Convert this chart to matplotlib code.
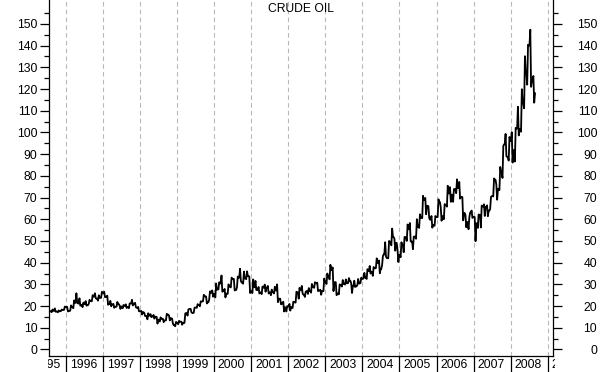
import matplotlib
matplotlib.use("Agg")
import matplotlib.pyplot as plt
from matplotlib.transforms import Bbox, TransformedBbox, ScaledTranslation
import numpy as np

plt.rcParams['font.family'] = ['Liberation Sans', 'DejaVu Sans']

# monthly WTI crude, Jul 1995 .. Aug 2008
start_year, start_month = 1995, 7

lows = [16.8, 17.2, 17.4, 17.1, 17.7, 18.3,
        17.5, 17.9, 19.0, 21.5, 20.2, 19.5, 20.2, 21.0, 22.2, 23.6, 22.5, 23.8,
        24.1, 20.6, 19.9, 19.2, 19.7, 18.7, 19.0, 19.1, 19.0, 20.3, 19.5, 17.6,
        16.1, 15.4, 13.9, 14.9, 14.2, 11.9, 12.9, 12.6, 13.4, 13.4, 11.9, 10.7,
        11.7, 11.4, 12.2, 15.6, 17.1, 16.9, 19.2, 19.9, 22.2, 21.2, 22.9, 24.3,
        24.0, 27.7, 26.6, 24.0, 25.6, 28.6, 27.2, 28.6, 31.6, 30.3, 32.4, 26.0,
        26.0, 27.4, 25.8, 25.5, 26.6, 25.8, 25.0, 25.8, 21.8, 20.8, 17.5, 17.5,
        17.9, 19.1, 21.6, 23.4, 25.7, 24.2, 25.6, 26.2, 28.4, 26.9, 25.2, 26.9,
        30.2, 32.3, 26.9, 25.0, 25.4, 29.0, 29.9, 30.6, 26.0, 28.8, 29.7, 30.6,
        32.8, 32.5, 35.0, 33.9, 37.5, 35.1, 38.8, 42.8, 42.0, 48.0, 45.5, 40.3,
        42.5, 44.8, 50.0, 49.8, 46.2, 51.0, 56.0, 60.5, 62.3, 60.5, 56.1, 57.0,
        61.0, 59.3, 60.0, 65.8, 68.0, 68.0, 72.0, 69.5, 59.5, 56.3, 55.4, 60.6,
        49.9, 56.0, 56.2, 61.5, 61.4, 64.6, 70.5, 69.0, 73.4, 79.0, 89.0, 87.0,
        86.1, 86.6, 98.6, 100.3, 111.1, 122.0, 121.0, 113.7]

highs = [17.9, 18.4, 18.9, 18.0, 18.4, 19.8,
         19.7, 20.3, 22.6, 25.9, 23.6, 21.6, 22.3, 22.9, 25.0, 25.9, 25.0, 26.6,
         26.6, 24.8, 22.4, 21.0, 21.9, 20.3, 20.5, 20.8, 21.2, 22.9, 21.5, 19.6,
         17.8, 16.8, 16.7, 16.3, 15.9, 15.0, 14.8, 14.2, 16.4, 15.6, 14.2, 12.7,
         13.2, 12.8, 16.6, 18.4, 18.7, 19.3, 20.9, 22.2, 25.2, 24.4, 26.8, 27.2,
         30.4, 31.0, 34.1, 27.9, 30.0, 33.1, 32.5, 33.6, 37.2, 35.9, 36.0, 33.6,
         32.3, 31.6, 28.8, 29.0, 29.9, 29.3, 27.6, 28.9, 30.0, 23.4, 22.0, 20.0,
         21.0, 22.0, 26.6, 28.4, 29.3, 26.6, 28.3, 30.2, 31.0, 30.8, 27.5, 32.7,
         35.0, 39.0, 37.8, 31.0, 30.0, 32.0, 32.3, 32.9, 30.5, 31.7, 32.5, 33.1,
         35.3, 37.0, 38.5, 38.0, 42.0, 41.0, 43.0, 49.4, 50.0, 55.7, 51.0, 46.0,
         49.4, 51.8, 57.6, 58.3, 52.0, 60.0, 62.3, 70.8, 69.8, 66.0, 61.5, 61.5,
         69.2, 65.5, 67.0, 75.4, 74.8, 73.9, 78.4, 77.2, 70.2, 62.0, 61.0, 64.0,
         61.0, 62.2, 66.3, 66.9, 66.4, 70.2, 78.8, 76.0, 84.1, 93.8, 99.3, 97.9,
         100.1, 102.1, 111.8, 119.9, 135.1, 140.4, 147.3, 126.0]

closes = [17.6, 17.8, 17.5, 17.6, 18.2, 19.5,
          17.7, 19.5, 21.5, 21.2, 20.5, 20.9, 20.4, 22.3, 24.4, 23.4, 23.8, 25.9,
          24.2, 20.9, 20.8, 19.7, 20.9, 19.8, 20.1, 19.6, 21.2, 21.1, 19.2, 17.6,
          17.2, 15.4, 15.6, 15.2, 15.1, 13.7, 14.1, 13.4, 16.1, 14.4, 11.2, 12.1,
          12.8, 12.3, 16.8, 18.7, 16.8, 19.3, 20.5, 22.1, 24.5, 21.8, 26.2, 25.6,
          27.6, 30.4, 26.9, 25.7, 29.0, 32.5, 27.4, 33.1, 30.8, 32.7, 33.8, 26.8,
          28.7, 27.4, 26.3, 28.5, 28.4, 26.3, 26.4, 27.2, 23.4, 21.2, 19.4, 19.8,
          19.5, 21.7, 26.3, 27.3, 25.3, 26.9, 27.0, 28.9, 30.5, 27.2, 26.9, 31.2,
          33.5, 36.6, 31.0, 25.8, 29.6, 30.2, 30.5, 31.6, 29.2, 29.1, 30.4, 32.5,
          33.1, 36.2, 35.8, 37.4, 39.9, 37.1, 43.8, 42.1, 49.6, 51.8, 49.1, 43.5,
          48.2, 51.8, 55.4, 49.7, 52.0, 56.5, 60.6, 69.0, 66.2, 59.8, 57.3, 61.0,
          67.9, 61.4, 66.6, 71.9, 71.3, 73.9, 74.4, 70.3, 62.9, 58.7, 63.1, 61.1,
          58.1, 62.0, 65.9, 65.7, 64.0, 70.7, 78.2, 74.0, 81.7, 94.5, 88.7, 96.0,
          91.8, 101.8, 101.6, 113.5, 127.4, 140.0, 124.1, 118.0]

years = list(range(1995, 2010))
title = "CRUDE OIL"

# month midpoints as decimal years
t = np.array([start_year + (start_month - 1 + i + 0.5) / 12 for i in range(len(closes))])

# zigzag path: open -> low/high -> high/low -> close within each month
px, py = [], []
prev = closes[0]
for i in range(len(t)):
    if closes[i] >= prev:
        mid = [lows[i], highs[i]]
    else:
        mid = [highs[i], lows[i]]
    px += [t[i] - 1 / 30, t[i] - 1 / 90, t[i] + 1 / 90, t[i] + 1 / 30]
    py += [prev, mid[0], mid[1], closes[i]]
    prev = closes[i]

fig = plt.figure(figsize=(6.02, 3.72), dpi=100)
ax = fig.add_axes([48.5 / 602, 16 / 372, 504 / 602, 356 / 372])

# year grid
for y in years:
    ax.axvline(y, color='#b8b8b8', lw=0.8, ls=(0, (4, 3)), zorder=0)

ax.plot(px, py, color='black', lw=1.3)

ax.spines['top'].set_visible(False)
for s in ['left', 'right', 'bottom']:
    ax.spines[s].set_linewidth(0.9)

fs = 8.7
ax.set_yticks(np.arange(0, 151, 10))
ax.set_yticks(np.arange(5, 160, 10), minor=True)
ax.tick_params(axis='y', which='major', direction='out', length=6.5, width=0.9,
               left=True, right=True, labelleft=True, labelright=True,
               labelsize=fs, pad=1.5)
ax.tick_params(axis='y', which='minor', direction='out', length=3.5, width=0.9,
               left=True, right=True)

# year separators below the axis
ax.set_xticks(years)
ax.set_xticklabels([])
ax.tick_params(axis='x', direction='out', length=11.5, width=0.9)

ax.set_xlim(1995.528, 2009.13)
ax.set_ylim(-3, 161)

# right labels: right-aligned near the figure edge
off = ScaledTranslation(33.5 / 100, 0, fig.dpi_scale_trans)
for tk in ax.yaxis.get_major_ticks():
    tk.label2.set_horizontalalignment('right')
    tk.label2.set_transform(tk.label2.get_transform() + off)

clip = TransformedBbox(Bbox([[48 / 602, 0], [555 / 602, 1]]), fig.transFigure)
for y in years:
    txt = ax.text(y + 0.1, -9 / 356, str(y), transform=ax.get_xaxis_transform(),
                  ha='left', va='center', fontsize=fs)
    txt.set_clip_box(clip)
    txt.set_clip_on(True)

ax.text(0.5, 1 - 9 / 356, title, transform=ax.transAxes, ha='center', va='center', fontsize=fs)

fig.savefig("out.png", dpi=100)
